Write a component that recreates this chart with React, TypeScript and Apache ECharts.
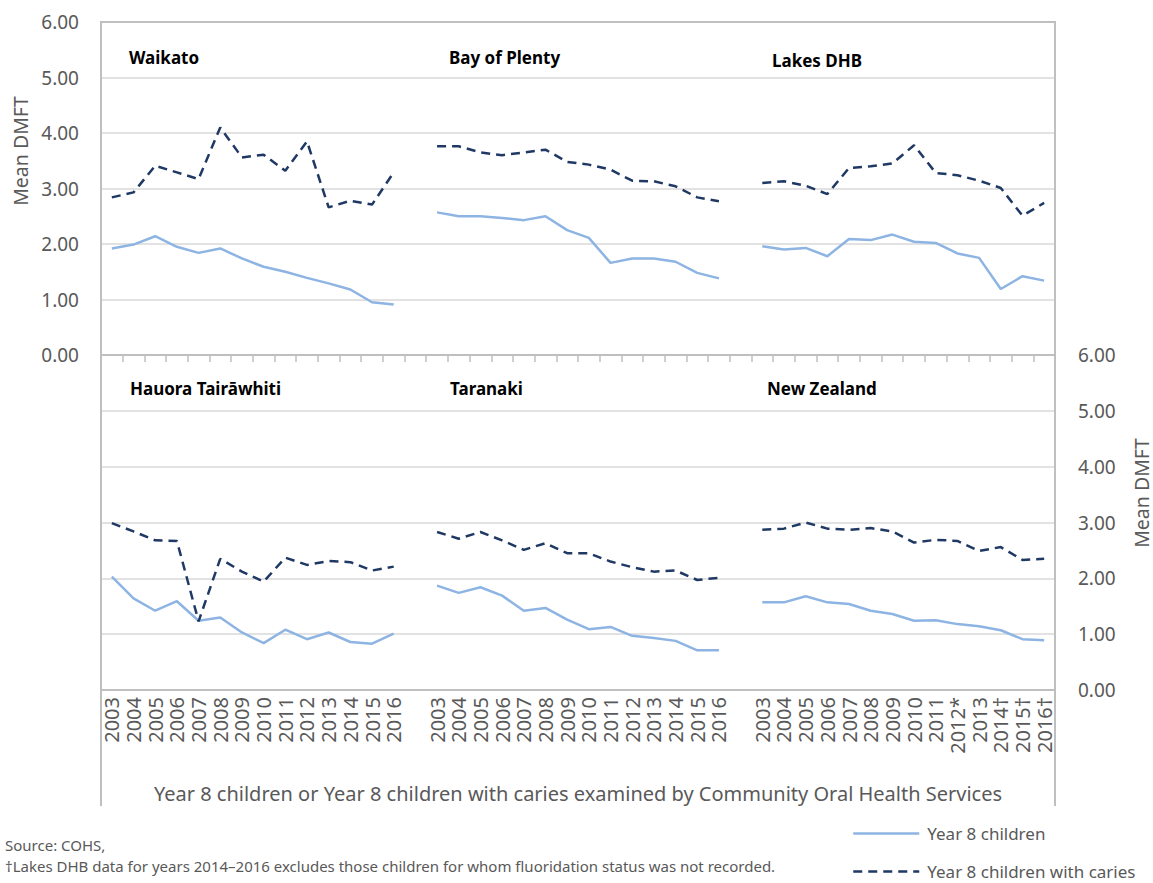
import React, { useEffect, useRef } from "react";
import * as echarts from "echarts";

const years = ["2003", "2004", "2005", "2006", "2007", "2008", "2009", "2010", "2011", "2012", "2013", "2014", "2015", "2016"];
const nzYears = ["2003", "2004", "2005", "2006", "2007", "2008", "2009", "2010", "2011", "2012*", "2013", "2014\u2020", "2015\u2020", "2016\u2020"];
const categories = [...years, "", ...years, "", ...nzYears];

const yTicks = [0, 1, 2, 3, 4, 5, 6];

// Top row
const waikatoAll = [1.92, 1.99, 2.14, 1.95, 1.84, 1.92, 1.74, 1.59, 1.5, 1.39, 1.29, 1.18, 0.95, 0.91];
const waikatoCaries = [2.84, 2.93, 3.41, 3.29, 3.17, 4.1, 3.56, 3.61, 3.32, 3.85, 2.66, 2.78, 2.71, 3.29];
const bopAll = [2.57, 2.5, 2.5, 2.47, 2.43, 2.5, 2.25, 2.11, 1.66, 1.74, 1.74, 1.68, 1.48, 1.38];
const bopCaries = [3.76, 3.76, 3.65, 3.6, 3.65, 3.7, 3.48, 3.43, 3.34, 3.14, 3.13, 3.04, 2.84, 2.77];
const lakesAll = [1.96, 1.9, 1.93, 1.78, 2.09, 2.07, 2.17, 2.04, 2.02, 1.83, 1.75, 1.19, 1.42, 1.34];
const lakesCaries = [3.1, 3.13, 3.05, 2.9, 3.37, 3.4, 3.45, 3.78, 3.28, 3.24, 3.14, 3.01, 2.51, 2.74];

// Bottom row
const tairawhitiAll = [2.03, 1.64, 1.42, 1.59, 1.24, 1.3, 1.03, 0.84, 1.08, 0.91, 1.03, 0.86, 0.83, 1.01];
const tairawhitiCaries = [2.99, 2.84, 2.68, 2.67, 1.23, 2.35, 2.12, 1.94, 2.37, 2.24, 2.31, 2.29, 2.14, 2.21];
const taranakiAll = [1.87, 1.74, 1.84, 1.69, 1.42, 1.47, 1.26, 1.09, 1.13, 0.97, 0.93, 0.88, 0.71, 0.71];
const taranakiCaries = [2.83, 2.71, 2.83, 2.68, 2.51, 2.63, 2.45, 2.45, 2.3, 2.2, 2.12, 2.14, 1.97, 2.01];
const nzAll = [1.57, 1.57, 1.68, 1.57, 1.54, 1.42, 1.36, 1.24, 1.25, 1.18, 1.14, 1.07, 0.91, 0.89];
const nzCaries = [2.87, 2.89, 3.0, 2.89, 2.87, 2.9, 2.84, 2.64, 2.69, 2.67, 2.49, 2.56, 2.33, 2.35];

const topTitles = ["Waikato", "Bay of Plenty", "Lakes DHB"];
const bottomTitles = ["Hauora Tair\u0101whiti", "Taranaki", "New Zealand"];

const seriesNames = ["Year 8 children", "Year 8 children with caries"];
const xAxisTitle = "Year 8 children or Year 8 children with caries examined by Community Oral Health Services";
const yAxisTitle = "Mean DMFT";
const footnotes = [
  "Source: COHS,",
  "\u2020Lakes DHB data for years 2014\u20132016 excludes those children for whom fluoridation status was not recorded.",
];

const joinPanels = (a: number[], b: number[], c: number[]) => [...a, null, ...b, null, ...c];

const FONT = "'Noto Sans', 'Open Sans', sans-serif";
const SOLID = "#8db4e2";
const DASH = "#1f3864";
const AXIS_GRAY = "#bfbfbf";
const GRID_GRAY = "#d9d9d9";
const TEXT_GRAY = "#595959";

export default function App() {
  const ref = useRef<HTMLDivElement>(null);

  useEffect(() => {
    if (!ref.current) return;
    const chart = echarts.init(ref.current, null, { renderer: "svg" });

    const solidStyle = { color: SOLID, width: 2.5 };
    const dashStyle = { color: DASH, width: 2.5, type: [9, 6] as any };

    const yAxisBase = {
      type: "value" as const,
      min: yTicks[0],
      max: yTicks[yTicks.length - 1],
      interval: 1,
      axisLine: { show: false },
      axisTick: { show: false },
      axisLabel: {
        fontSize: 19,
        color: TEXT_GRAY,
        fontFamily: FONT,
        formatter: (v: number) => v.toFixed(2),
      },
      splitLine: { lineStyle: { color: GRID_GRAY, width: 1.5 } },
    };

    const titleTexts = [
      { text: topTitles[0], x: 129, y: 57 },
      { text: topTitles[1], x: 449, y: 57 },
      { text: topTitles[2], x: 772, y: 60 },
      { text: bottomTitles[0], x: 130, y: 388 },
      { text: bottomTitles[1], x: 450, y: 388 },
      { text: bottomTitles[2], x: 767, y: 388 },
    ].map((t) => ({
      type: "text",
      x: t.x,
      y: t.y,
      style: {
        text: t.text,
        fill: "#000000",
        font: `bold 17px ${FONT}`,
        textVerticalAlign: "middle",
      },
    }));

    const legendBase = {
      orient: "horizontal",
      left: 852,
      padding: 0,
      itemWidth: 66,
      itemHeight: 14,
      itemStyle: { opacity: 0, borderWidth: 0 },
      lineStyle: { width: 2.5 },
      textStyle: { fontSize: 17, lineHeight: 16, color: TEXT_GRAY, fontFamily: FONT, padding: [0, 0, 0, 3] },
      selectedMode: false,
    };

    chart.setOption({
      animation: false,
      backgroundColor: "#ffffff",
      textStyle: { fontFamily: FONT },
      grid: [
        { left: 101, top: 22, width: 954, height: 333 },
        { left: 101, top: 355, width: 954, height: 335 },
      ],
      xAxis: [
        {
          type: "category",
          gridIndex: 0,
          data: categories,
          boundaryGap: true,
          axisLine: { lineStyle: { color: AXIS_GRAY, width: 2 } },
          axisTick: { show: true, interval: 0, length: 7, lineStyle: { color: AXIS_GRAY, width: 1.5 } },
          axisLabel: { show: false },
          splitLine: { show: false },
        },
        {
          type: "category",
          gridIndex: 1,
          data: categories,
          boundaryGap: true,
          axisLine: { lineStyle: { color: AXIS_GRAY, width: 2 } },
          axisTick: { show: false },
          axisLabel: {
            interval: 0,
            rotate: 90,
            fontSize: 20,
            color: TEXT_GRAY,
            fontFamily: FONT,
            margin: 7,
          },
          splitLine: { show: false },
        },
      ],
      yAxis: [
        { ...yAxisBase, gridIndex: 0, position: "left", axisLabel: { ...yAxisBase.axisLabel, margin: 22 } },
        { ...yAxisBase, gridIndex: 1, position: "right", axisLabel: { ...yAxisBase.axisLabel, margin: 23 } },
      ],
      legend: [
        { ...legendBase, top: 825, data: [seriesNames[0]] },
        { ...legendBase, top: 863, data: [seriesNames[1]] },
      ],
      series: [
        {
          name: seriesNames[0],
          type: "line",
          xAxisIndex: 0,
          yAxisIndex: 0,
          data: joinPanels(waikatoAll, bopAll, lakesAll),
          symbol: "none",
          connectNulls: false,
          lineStyle: solidStyle,
          itemStyle: { color: SOLID },
          silent: true,
        },
        {
          name: seriesNames[1],
          type: "line",
          xAxisIndex: 0,
          yAxisIndex: 0,
          data: joinPanels(waikatoCaries, bopCaries, lakesCaries),
          symbol: "none",
          connectNulls: false,
          lineStyle: dashStyle,
          itemStyle: { color: DASH },
          silent: true,
        },
        {
          name: seriesNames[0],
          type: "line",
          xAxisIndex: 1,
          yAxisIndex: 1,
          data: joinPanels(tairawhitiAll, taranakiAll, nzAll),
          symbol: "none",
          connectNulls: false,
          lineStyle: solidStyle,
          itemStyle: { color: SOLID },
          silent: true,
        },
        {
          name: seriesNames[1],
          type: "line",
          xAxisIndex: 1,
          yAxisIndex: 1,
          data: joinPanels(tairawhitiCaries, taranakiCaries, nzCaries),
          symbol: "none",
          connectNulls: false,
          lineStyle: dashStyle,
          itemStyle: { color: DASH },
          silent: true,
        },
      ],
      graphic: [
        {
          type: "polyline",
          silent: true,
          shape: { points: [[101, 806], [101, 22], [1055, 22], [1055, 806]] },
          style: { stroke: AXIS_GRAY, lineWidth: 2, fill: "none" },
          z: 10,
        },
        ...titleTexts,
        {
          type: "text",
          x: 20,
          y: 151,
          rotation: Math.PI / 2,
          style: {
            text: yAxisTitle,
            fill: TEXT_GRAY,
            font: `19.5px ${FONT}`,
            textAlign: "center",
            textVerticalAlign: "middle",
          },
        },
        {
          type: "text",
          x: 1141,
          y: 493,
          rotation: Math.PI / 2,
          style: {
            text: yAxisTitle,
            fill: TEXT_GRAY,
            font: `19.5px ${FONT}`,
            textAlign: "center",
            textVerticalAlign: "middle",
          },
        },
        {
          type: "text",
          x: 578,
          y: 793,
          style: {
            text: xAxisTitle,
            fill: TEXT_GRAY,
            font: `20px ${FONT}`,
            textAlign: "center",
            textVerticalAlign: "middle",
          },
        },
        {
          type: "text",
          x: 5,
          y: 845,
          style: { text: footnotes[0], fill: TEXT_GRAY, font: `15px ${FONT}`, textVerticalAlign: "middle" },
        },
        {
          type: "text",
          x: 5,
          y: 866,
          style: { text: footnotes[1], fill: TEXT_GRAY, font: `15px ${FONT}`, textVerticalAlign: "middle" },
        },
      ],
    });

    return () => {
      chart.dispose();
    };
  }, []);

  return (
    <div
      ref={ref}
      style={{ position: "fixed", left: 0, top: 0, width: 1153, height: 883, background: "#fff" }}
    />
  );
}
